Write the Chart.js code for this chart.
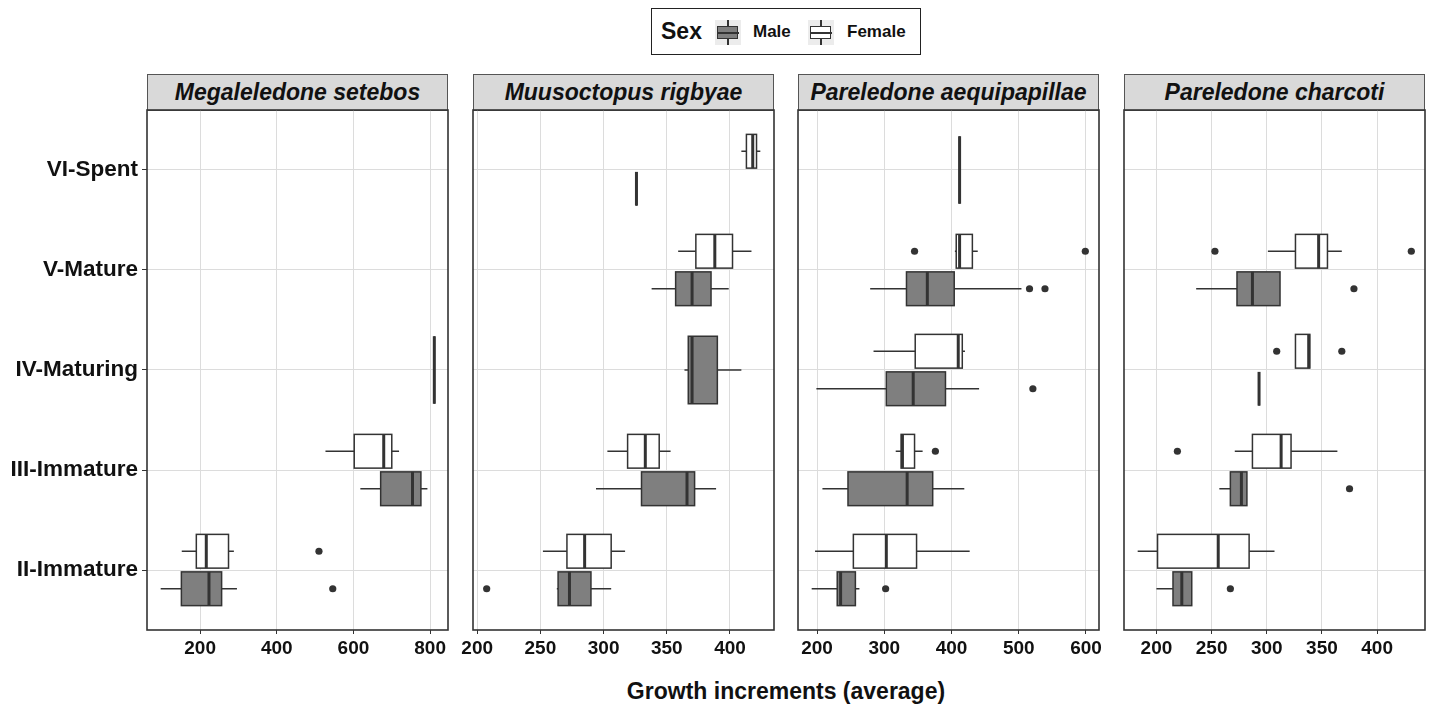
<!DOCTYPE html>
<html>
<head>
<meta charset="utf-8">
<script src="https://cdn.jsdelivr.net/npm/chart.js@4.4.1/dist/chart.umd.min.js"></script>
<style>
  body { margin:0; width:1429px; height:711px; background:#fff; position:relative; overflow:hidden;
         font-family:"Liberation Sans", Arial, sans-serif; color:#111; }
  canvas { position:absolute; }
  .strip { position:absolute; top:74px; height:35px; width:299px; background:#d9d9d9; border:1px solid #555;
           font-weight:bold; font-style:italic; font-size:23px; text-align:center; line-height:35px; }
  #legend { position:absolute; left:651px; top:8px; width:268px; height:45px; border:1.5px solid #222; }
  #legend span { position:absolute; font-weight:bold; }
  .key { position:absolute; top:11px; width:26px; height:25px; background:#ececec; }
  .key .w { position:absolute; left:12px; width:1.5px; height:25px; top:0; background:#333; }
  .key .b { position:absolute; left:2px; top:6px; width:19px; height:11px; border:1.5px solid #333; }
  .key .m { position:absolute; left:2px; top:12px; width:22px; height:1.5px; background:#333; }
  #xtitle { position:absolute; left:147px; width:1278px; top:678px; text-align:center; font-weight:bold; font-size:23px; }
</style>
</head>
<body>
<div id="legend">
  <span style="left:9px;top:9px;font-size:23px">Sex</span>
  <div class="key" style="left:63px"><div class="w"></div><div class="b" style="background:#7f7f7f"></div><div class="m"></div></div>
  <span style="left:101px;top:13px;font-size:17px">Male</span>
  <div class="key" style="left:156px"><div class="w"></div><div class="b" style="background:#fff"></div><div class="m"></div></div>
  <span style="left:195px;top:13px;font-size:17px">Female</span>
</div>
<div id="xtitle">Growth increments (average)</div>

<script>
// maturity stages (bottom to top) and species panels
const levels = ['II-Immature', 'III-Immature', 'IV-Maturing', 'V-Mature', 'VI-Spent'];
const species = ['Megaleledone setebos', 'Muusoctopus rigbyae', 'Pareledone aequipapillae', 'Pareledone charcoti'];

// [lower whisker, Q1, median, Q3, upper whisker] per stage, null = no data
const megaMale      = [[97,151,223,256,296], [618,671,754,776,793], [811,811,811,811,811], null, null];
const megaMaleOut   = [[546], [], [], [], []];
const megaFemale    = [[152,190,216,274,288], [527,602,679,700,719], null, null, null];
const megaFemaleOut = [[510], [], [], [], []];

const rigMale      = [[263,264,273,290,306], [294,330,366,372,389], [364,367,370,390,409], [338,357,370,385,399], [326,326,326,326,326]];
const rigMaleOut   = [[207.5], [], [], [], []];
const rigFemale    = [[252,271,285,306,317], [303,319,333,344,353], null, [359,373,388,402,417], [409,413,418,421,424]];
const rigFemaleOut = [[], [], [], [], []];

const aeqMale      = [[192,230,235,257,263], [208,246,334,372,419], [199,303,343,391,441], [279,333,364,404,504], null];
const aeqMaleOut   = [[302], [], [521], [516,539], []];
const aeqFemale    = [[197,254,303,348,427], [317,325,327,345,357], [284,346,410,416,420], [405,407,412,431,439], [412,412,412,412,412]];
const aeqFemaleOut = [[], [376], [], [345,599], []];

const chaMale      = [[200,215,223,232,232], [257,267,277,282,282], [293,293,293,293,293], [236,273,287,312,312], null];
const chaMaleOut   = [[267], [375], [], [379], []];
const chaFemale    = [[183,201,256,284,307], [271,287,313,322,364], [326,326,338,339,339], [301,326,347,355,368], null];
const chaFemaleOut = [[], [219], [309,368], [253,431], []];

const xTicks = [[200,400,600,800], [200,250,300,350,400], [200,300,400,500,600], [200,250,300,350,400]];

const panels = [
  [megaMale, megaMaleOut, megaFemale, megaFemaleOut],
  [rigMale, rigMaleOut, rigFemale, rigFemaleOut],
  [aeqMale, aeqMaleOut, aeqFemale, aeqFemaleOut],
  [chaMale, chaMaleOut, chaFemale, chaFemaleOut]
];

const MALE_FILL = '#7f7f7f', LINE = '#333333';
const panelLeft = [147, 473, 798, 1124];
const PW = 301, TOP = 110, PH = 520, PAD = 20, PTOP = 18;

// dodge like ggplot: both sexes -> two slots, one sex -> full width
function slot(i, own, other, isFemale) {
  if (!other[i]) return { off: 0, half: 0.3375 };
  return { off: isFemale ? 0.1875 : -0.1875, half: 0.16875 };
}

function range(arrs) {
  let lo = Infinity, hi = -Infinity;
  arrs.forEach(a => a.forEach(v => {
    const vals = v == null ? [] : [].concat(v);
    vals.forEach(n => { lo = Math.min(lo, n); hi = Math.max(hi, n); });
  }));
  const e = (hi - lo) * 0.05;
  return [lo - e, hi + e];
}

panels.forEach((p, k) => {
  const [male, maleOut, female, femaleOut] = p;

  const strip = document.createElement('div');
  strip.className = 'strip';
  strip.style.left = panelLeft[k] + 'px';
  strip.textContent = species[k];
  document.body.appendChild(strip);

  const cv = document.createElement('canvas');
  const first = k === 0;
  const left = first ? 0 : panelLeft[k] - PAD;
  const w = first ? panelLeft[k] + PW + PAD : PW + 2 * PAD;
  cv.width = w; cv.height = PTOP + PH + 40;
  cv.style.left = left + 'px';
  cv.style.top = (TOP - PTOP) + 'px';
  document.body.appendChild(cv);

  const [xmin, xmax] = range([male, maleOut, female, femaleOut]);

  const outPts = [];
  maleOut.forEach((vals, i) => vals.forEach(v => outPts.push({ x: v, y: i + slot(i, male, female, false).off })));
  femaleOut.forEach((vals, i) => vals.forEach(v => outPts.push({ x: v, y: i + slot(i, female, male, true).off })));

  const boxes = {
    id: 'boxes',
    beforeDatasetsDraw(chart) {
      const { ctx, scales: { x, y } } = chart;
      const draw = (stats, other, isFemale) => {
        stats.forEach((s, i) => {
          if (!s) return;
          const sl = slot(i, stats, other, isFemale);
          const yc = y.getPixelForValue(i + sl.off);
          const y0 = y.getPixelForValue(i + sl.off + sl.half);
          const y1 = y.getPixelForValue(i + sl.off - sl.half);
          const [lo, q1, md, q3, hi] = s.map(v => x.getPixelForValue(v));
          ctx.save();
          ctx.strokeStyle = LINE;
          ctx.lineWidth = 1.5;
          ctx.beginPath();
          ctx.moveTo(lo, yc); ctx.lineTo(q1, yc);
          ctx.moveTo(q3, yc); ctx.lineTo(hi, yc);
          ctx.stroke();
          ctx.fillStyle = isFemale ? '#ffffff' : MALE_FILL;
          ctx.fillRect(q1, y0, q3 - q1, y1 - y0);
          ctx.strokeRect(q1, y0, q3 - q1, y1 - y0);
          ctx.lineWidth = 3;
          ctx.beginPath();
          ctx.moveTo(md, y0); ctx.lineTo(md, y1);
          ctx.stroke();
          ctx.restore();
        });
      };
      draw(male, female, false);
      draw(female, male, true);
    },
    afterDatasetsDraw(chart) {
      const { ctx, chartArea: a } = chart;
      ctx.save();
      ctx.strokeStyle = LINE;
      ctx.lineWidth = 1.6;
      ctx.strokeRect(a.left, a.top, a.right - a.left, a.bottom - a.top);
      ctx.restore();
    }
  };

  new Chart(cv, {
    type: 'scatter',
    data: {
      datasets: [{
        data: outPts,
        pointRadius: 3.6,
        pointHoverRadius: 3.6,
        backgroundColor: LINE,
        borderWidth: 0
      }]
    },
    options: {
      responsive: false,
      animation: false,
      events: [],
      layout: { padding: { left: first ? 0 : PAD, right: PAD, top: PTOP, bottom: 0 } },
      plugins: { legend: { display: false }, tooltip: { enabled: false } },
      scales: {
        x: {
          type: 'linear', min: xmin, max: xmax,
          afterBuildTicks: s => { s.ticks = xTicks[k].map(v => ({ value: v })); },
          afterFit: s => { s.height = 40; },
          grid: { color: '#dcdcdc', tickColor: LINE, tickLength: 4, lineWidth: 1 },
          border: { display: false },
          ticks: { color: '#111', padding: 3, maxRotation: 0, font: { family: '"Liberation Sans", Arial', size: 19, weight: 'bold' } }
        },
        y: {
          type: 'linear', min: -0.6, max: 4.6,
          afterBuildTicks: s => { s.ticks = levels.map((l, i) => ({ value: i })); },
          afterFit: s => { s.width = first ? 147 : 0; },
          grid: { color: '#dcdcdc', tickColor: LINE, tickLength: 5, drawTicks: first, lineWidth: 1 },
          border: { display: false },
          ticks: {
            display: first,
            color: '#111', padding: 4,
            font: { family: '"Liberation Sans", Arial', size: 22.5, weight: 'bold' },
            callback: v => levels[v]
          }
        }
      }
    },
    plugins: [boxes]
  });
});
</script>
</body>
</html>
